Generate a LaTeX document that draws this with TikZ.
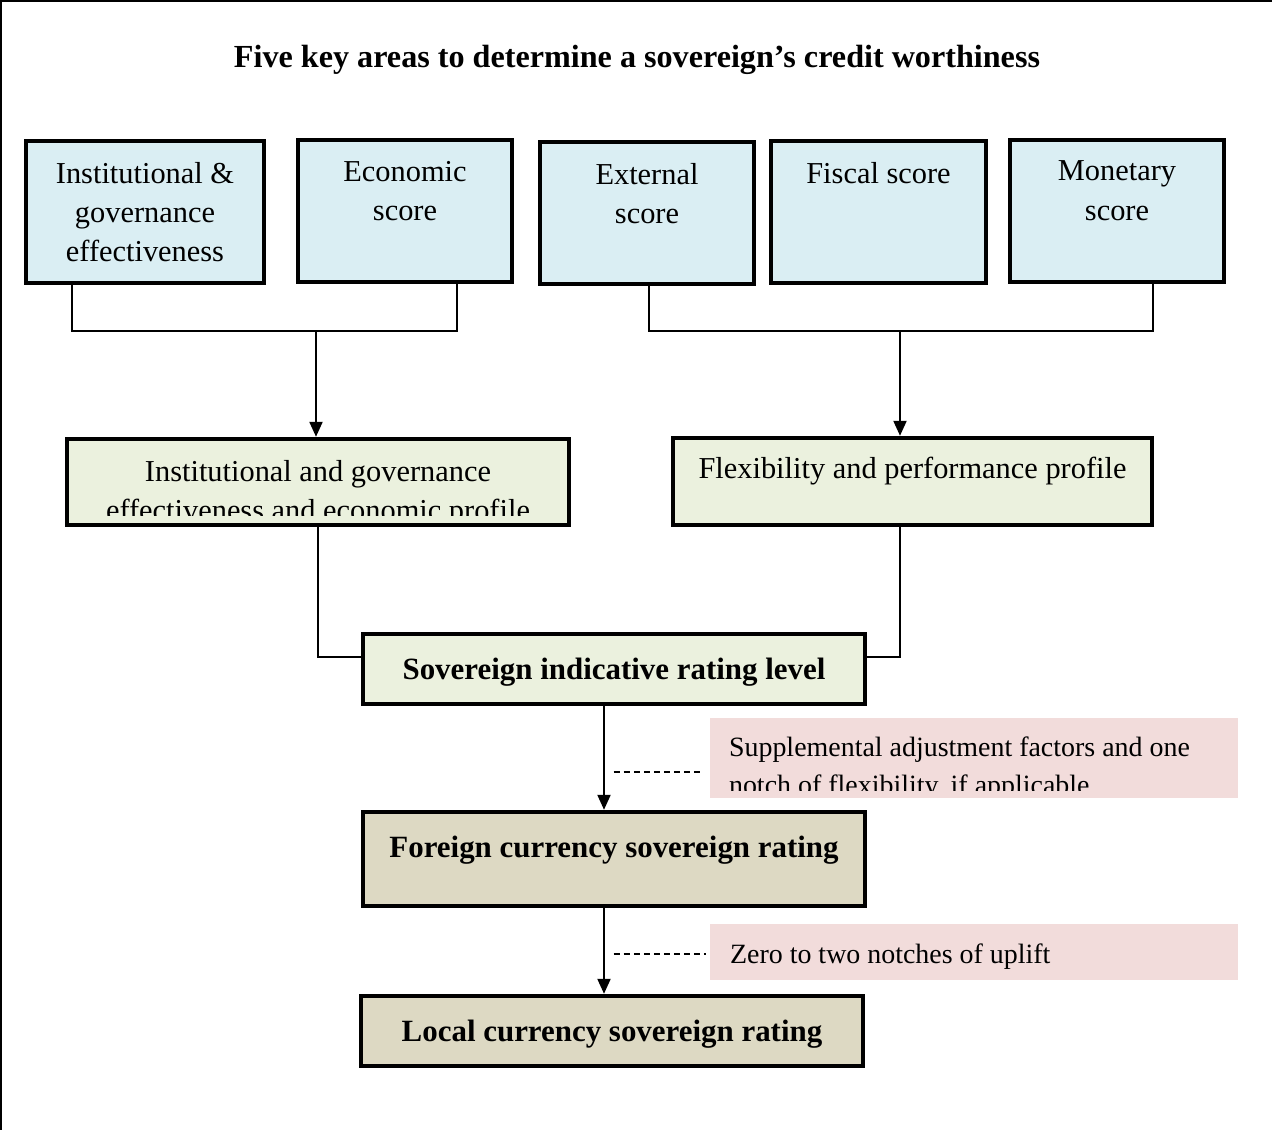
\documentclass[tikz,border=0pt]{standalone}
\usepackage{fontspec}
\setmainfont{Liberation Serif}
\usepackage{tikz}
\usetikzlibrary{arrows.meta, positioning}
\definecolor{scoreblue}{HTML}{DAEEF3}
\definecolor{profgreen}{HTML}{EBF1DE}
\definecolor{ratingtan}{HTML}{DDD9C3}
\definecolor{notepink}{HTML}{F2DCDB}

\begin{document}
\begin{tikzpicture}[x=0.02cm, y=-0.02cm,
    scorebox/.style={draw, line width=2.6pt, fill=scoreblue, minimum width=4.28cm, minimum height=2.84cm, inner sep=0pt},
    profbox/.style={draw, line width=2.6pt, fill=profgreen, minimum height=1.72cm, inner sep=0pt},
    ratebox/.style={draw, line width=2.6pt, fill=ratingtan, minimum width=10.04cm, minimum height=1.4cm, inner sep=0pt, text depth=0pt, font=\fontsize{17.6}{22}\selectfont\bfseries},
    notebox/.style={fill=notepink, minimum width=10.56cm, inner sep=0pt},
    boxtext/.style={inner sep=0pt, align=center, font=\fontsize{17.3}{22.3}\selectfont},
    ratetext/.style={inner sep=0pt, align=center, font=\fontsize{17.6}{22}\selectfont\bfseries},
    notetext/.style={inner sep=0pt, align=left, font=\fontsize{15.9}{22}\selectfont},
    link/.style={line width=0.9pt},
    arrow/.style={line width=0.9pt, -{Triangle[width=7.5pt,length=8.5pt]}},
    dashline/.style={line width=0.9pt, dash pattern=on 3.4pt off 2.3pt}]

    \useasboundingbox (0,0) rectangle (1272,1130);
    \draw[line width=2.5pt] (0,1130) -- (0,0) -- (1272,0);

    \node[font=\fontsize{18.3}{20}\selectfont\bfseries] (title) at (637,60) {Five key areas to determine a sovereign’s credit worthiness};

    % five scores
    \node[scorebox, minimum width=4.76cm] (inst) at (145,212) {};
    \node[scorebox] (econ) at (405,211) {};
    \node[scorebox] (extn) at (647,213) {};
    \node[scorebox, minimum width=4.3cm] (fisc) at (878.5,212) {};
    \node[scorebox] (mone) at (1117,211) {};
    \node[boxtext, below=13pt of inst.north] {Institutional \&\\governance\\effectiveness};
    \node[boxtext, below=13pt of econ.north] {Economic\\score};
    \node[boxtext, below=13pt of extn.north] {External\\score};
    \node[boxtext, below=13pt of fisc.north] {Fiscal score};
    \node[boxtext, below=13pt of mone.north] {Monetary\\score};

    % profiles
    \node[profbox, minimum width=10.04cm] (igp) at (318,482) {};
    \begin{scope}
        \clip (igp.north west) rectangle (igp.east |- 0,515);
        \node[boxtext, below=13pt of igp.north] {Institutional and governance\\effectiveness and economic profile};
    \end{scope}
    \node[profbox, minimum width=9.58cm, minimum height=1.74cm] (flex) at (912.5,481.5) {};
    \node[boxtext, below=12pt of flex.north] {Flexibility and performance profile};

    % ratings
    \node[ratebox, fill=profgreen] (sirl) at (614,669) {Sovereign indicative rating level};
    \node[ratebox, minimum height=1.88cm] (fcsr) at (614,859) {};
    \node[ratetext, below=14.8pt of fcsr.north] {Foreign currency sovereign rating};
    \node[ratebox] (lcsr) at (612,1031) {Local currency sovereign rating};

    % notes
    \node[notebox, minimum height=1.6cm] (adj) at (974,758) {};
    \begin{scope}
        \clip (adj.north west) rectangle (adj.east |- 0,790);
        \node[notetext, anchor=north west] at ([shift={(0.38cm,-10.6pt)}]adj.north west) {Supplemental adjustment factors and one\\notch of flexibility, if applicable};
    \end{scope}
    \node[notebox, minimum height=1.12cm] (upl) at (974,952) {};
    \node[notetext, right=0.4cm of upl.west, yshift=-2.8pt] {Zero to two notches of uplift};

    % connectors
    \coordinate (jl) at (316,331);
    \coordinate (jr) at (900,331);
    \draw[link] ([xshift=-1.46cm]inst.south) |- (jl) -| ([xshift=1.04cm]econ.south);
    \draw[arrow] (jl) -- (jl |- igp.north);
    \draw[link] ([xshift=0.04cm]extn.south) |- (jr) -| ([xshift=0.72cm]mone.south);
    \draw[arrow] (jr) -- (jr |- flex.north);
    \draw[link] (igp.south) |- ([yshift=0.24cm]sirl.west);
    \draw[link] ([xshift=-0.25cm]flex.south) |- ([yshift=0.24cm]sirl.east);
    \draw[arrow] ([xshift=-0.2cm]sirl.south) -- ([xshift=-0.2cm]fcsr.north);
    \draw[arrow] ([xshift=-0.2cm]fcsr.south) -- ([xshift=-0.2cm]fcsr.south |- lcsr.north);
    \draw[dashline] ([shift={(-1.92cm,-0.28cm)}]adj.west) -- ([shift={(-0.14cm,-0.28cm)}]adj.west);
    \draw[dashline] ([shift={(-1.92cm,-0.04cm)}]upl.west) -- ([shift={(-0.08cm,-0.04cm)}]upl.west);
\end{tikzpicture}
\end{document}
